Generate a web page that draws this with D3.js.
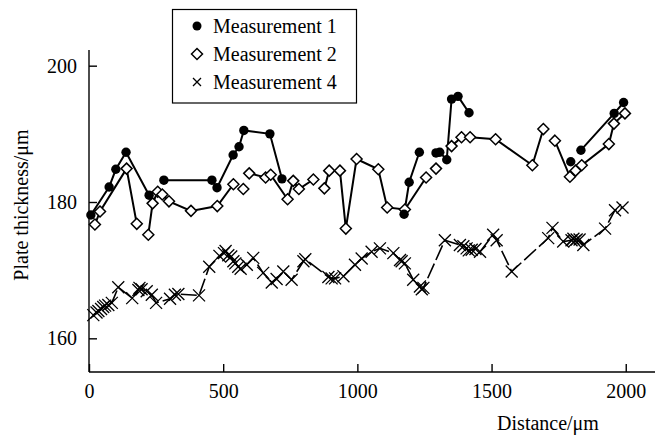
<!DOCTYPE html>
<html><head><meta charset="utf-8">
<script src="https://cdn.jsdelivr.net/npm/d3@7"></script>
<style>body{margin:0;background:#fff}svg{display:block}text{font-family:"Liberation Serif","DejaVu Serif",serif;fill:#000}</style>
</head><body>
<svg id="c" width="660" height="439"></svg>
<script>
// Series names
const seriesNames = ["Measurement 1", "Measurement 2", "Measurement 4"];
// Measurement 1 (null = break in line)
const m1X = [7,75,100,138,224,null,279,458,477,537,559,577,674,719,null,1174,1193,1231,null,1293,1307,1333,1351,1375,1416,null,1795,null,1833,1957,1992];
const m1Y = [178.1,182.2,184.8,187.3,181.0,null,183.2,183.2,182.1,186.9,188.1,190.5,190.0,183.4,null,178.2,182.9,187.3,null,187.2,187.3,186.2,195.1,195.5,193.1,null,185.9,null,187.6,193.0,194.6];
// Measurement 2
const m2X = [22,41,140,178,null,221,237,256,273,298,380,478,538,null,575,null,597,658,677,740,761,782,836,null,877,895,null,935,957,997,1078,1111,1177,1256,null,1293,null,1351,1388,1420,1515,1652,1693,null,1736,1792,1813,1836,1937,1956,1997];
const m2Y = [176.7,178.6,184.9,176.8,null,175.2,179.8,181.5,181.1,180.1,178.7,179.4,182.6,null,181.9,null,184.2,183.6,184.0,180.4,183.1,181.9,183.3,null,182.0,184.6,null,184.6,176.1,186.3,184.8,179.2,178.9,183.6,null,184.9,null,188.2,189.5,189.5,189.2,185.4,190.7,null,189.0,183.7,184.6,185.4,188.5,191.5,193.0];
// Measurement 4
const m4X = [16,28,35,45,53,60,72,85,109,161,184,188,196,215,234,250,302,320,333,410,448,486,503,509,519,530,538,545,556,565,588,612,649,681,699,724,755,799,806,892,904,917,948,991,1016,1053,1084,1134,1159,1165,1177,1208,1233,1240,1246,1326,1382,1395,1407,1415,1426,1440,1457,1506,1519,1575,1711,1727,1767,1798,1805,1810,1817,1828,1842,1923,1960,1988];
const m4Y = [163.4,163.8,164.0,164.3,164.6,164.8,164.9,165.2,167.5,165.9,167.1,167.4,167.2,166.9,166.4,165.2,165.8,166.4,166.5,166.3,170.5,172.1,172.5,172.8,172.2,172.0,171.3,171.0,170.5,170.2,170.8,171.8,169.6,168.2,168.7,169.8,168.6,171.3,171.6,169.0,168.8,168.8,169.1,170.8,171.7,172.7,173.2,172.5,171.5,171.3,171.0,168.6,167.6,167.2,167.4,174.4,173.7,173.5,173.2,172.9,173.0,173.1,172.7,175.2,174.4,169.8,174.7,176.2,174.2,174.4,174.6,174.3,174.5,174.5,173.7,176.1,178.8,179.2];
// Axis ticks
const xTicks = [0,500,1000,1500,2000];
const yTicks = [160,180,200];

const svg = d3.select("#c");
const x = d3.scaleLinear().domain([0,2109]).range([89,655]);
const y = d3.scaleLinear().domain([155.06,202.3]).range([372,50]);

function pts(xs, ys){ return xs.map((v,i)=>({x:v,y:ys[i]})); }
const line = d3.line().defined(d=>d.x!==null && d.y!==null).x(d=>x(d.x)).y(d=>y(d.y));

// axes
const ax = svg.append("g").attr("transform","translate(0,372)")
  .call(d3.axisBottom(x).tickValues(xTicks).tickSize(-8).tickPadding(12).tickFormat(d3.format("d")));
const ay = svg.append("g").attr("transform","translate(89,0)")
  .call(d3.axisLeft(y).tickValues(yTicks).tickSize(-8).tickPadding(12));
[ax,ay].forEach(g=>{
  g.select(".domain").attr("stroke","#000").attr("stroke-width",1.4);
  g.selectAll(".tick line").attr("stroke","#000").attr("stroke-width",1.4);
  g.selectAll(".tick text").style("font-family",'"Liberation Serif",serif').style("font-size","20px").attr("fill","#000");
});
ax.select(".domain").attr("d","M89,0H655");
ay.select(".domain").attr("d","M0,372V50");

// lines
const d1 = pts(m1X,m1Y), d2 = pts(m2X,m2Y), d4 = pts(m4X,m4Y);
svg.append("path").attr("d",line(d4)).attr("fill","none").attr("stroke","#000").attr("stroke-width",1.6).attr("stroke-dasharray","16,4");
svg.append("path").attr("d",line(d2)).attr("fill","none").attr("stroke","#000").attr("stroke-width",2);
svg.append("path").attr("d",line(d1)).attr("fill","none").attr("stroke","#000").attr("stroke-width",2);

// markers
const crossPath = (s)=>`M${-s},${-s}L${s},${s}M${-s},${s}L${s},${-s}`;
svg.append("g").selectAll("path").data(d4.filter(d=>d.x!==null)).join("path")
  .attr("transform",d=>`translate(${x(d.x)},${y(d.y)})`).attr("d",crossPath(6))
  .attr("stroke","#000").attr("stroke-width",1.3).attr("fill","none");
const diamond = (s)=>`M0,${-s}L${s},0L0,${s}L${-s},0Z`;
svg.append("g").selectAll("path").data(d2.filter(d=>d.x!==null)).join("path")
  .attr("transform",d=>`translate(${x(d.x)},${y(d.y)})`).attr("d",diamond(5.5))
  .attr("stroke","#000").attr("stroke-width",1.5).attr("fill","#fff");
svg.append("g").selectAll("circle").data(d1.filter(d=>d.x!==null)).join("circle")
  .attr("cx",d=>x(d.x)).attr("cy",d=>y(d.y)).attr("r",4.7).attr("fill","#000");

// axis titles
svg.append("text").attr("x",548).attr("y",430).attr("text-anchor","middle").style("font-size","20px").text("Distance/μm");
svg.append("text").attr("transform","translate(28,205) rotate(-90)").attr("text-anchor","middle").style("font-size","20px").text("Plate thickness/μm");

// legend
const lg = svg.append("g");
lg.append("rect").attr("x",172.5).attr("y",9.5).attr("width",184).attr("height",93.5).attr("fill","#fff").attr("stroke","#000").attr("stroke-width",1.2);
const ly = [26,54,82];
lg.append("circle").attr("cx",197).attr("cy",ly[0]).attr("r",4.5).attr("fill","#000");
lg.append("path").attr("transform",`translate(197,${ly[1]})`).attr("d",diamond(5.5)).attr("stroke","#000").attr("stroke-width",1.5).attr("fill","#fff");
lg.append("path").attr("transform",`translate(197,${ly[2]})`).attr("d",crossPath(4)).attr("stroke","#000").attr("stroke-width",1.3);
seriesNames.forEach((n,i)=>{
  lg.append("text").attr("x",213).attr("y",ly[i]).attr("dy","0.33em").style("font-size","20px").text(n);
});
</script>
</body></html>
